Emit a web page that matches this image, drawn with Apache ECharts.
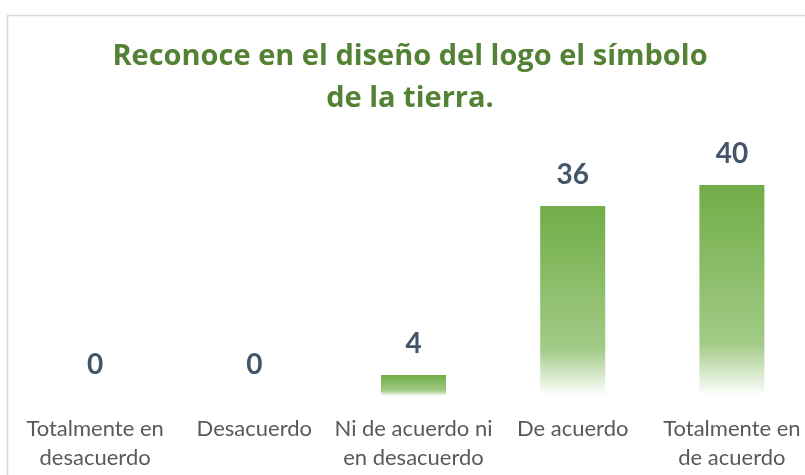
<!DOCTYPE html>
<html>
<head>
<meta charset="utf-8">
<script src="https://cdn.jsdelivr.net/npm/echarts@6/dist/echarts.min.js"></script>
<style>
  html, body { margin: 0; padding: 0; background: #fff; }
  #main { width: 805px; height: 475px; }
</style>
</head>
<body>
<div id="main"></div>
<script>
var categories = [
  "Totalmente en\ndesacuerdo",
  "Desacuerdo",
  "Ni de acuerdo ni\nen desacuerdo",
  "De acuerdo",
  "Totalmente en\nde acuerdo"
];
var values = [0, 0, 4, 36, 40];
var titleText = "Reconoce en el diseño del logo el símbolo\nde la tierra.";

var myChart = echarts.init(document.getElementById("main"));

var option = {
  backgroundColor: "#fff",
  animation: false,
  graphic: [
    {
      // marco gris del gráfico
      type: "rect",
      left: 5,
      top: 13,
      shape: { width: 820, height: 480 },
      style: { fill: "none", stroke: "#d9d9d9", lineWidth: 1.5 },
      z: -1
    }
  ],
  title: {
    text: titleText,
    left: 405,
    textAlign: "center",
    top: 31,
    textStyle: {
      fontFamily: "Open Sans",
      fontWeight: "bold",
      fontSize: 29,
      color: "#548235",
      lineHeight: 42
    }
  },
  grid: {
    left: 15.5,
    width: 796,
    top: 185,
    bottom: 79,
    containLabel: false,
    outerBoundsMode: "none"
  },
  xAxis: {
    type: "category",
    data: categories,
    axisLine: { show: false },
    axisTick: { show: false },
    axisLabel: {
      interval: 0,
      margin: 18,
      color: "#595959",
      fontFamily: "Lato",
      fontSize: 22,
      lineHeight: 29
    }
  },
  yAxis: {
    type: "value",
    min: 0,
    max: 40,
    show: false
  },
  series: [
    {
      type: "bar",
      data: values,
      barWidth: 65,
      itemStyle: {
        color: {
          type: "linear",
          x: 0, y: 0, x2: 0, y2: 1,
          colorStops: [
            { offset: 0, color: "#70AD47" },
            { offset: 0.75, color: "#A2CB86" },
            { offset: 1, color: "#FFFFFF" }
          ]
        }
      },
      label: {
        show: true,
        position: "top",
        distance: 17,
        color: "#44546A",
        fontFamily: "Lato",
        fontWeight: "bold",
        fontSize: 28
      }
    }
  ]
};

myChart.setOption(option);
</script>
</body>
</html>
